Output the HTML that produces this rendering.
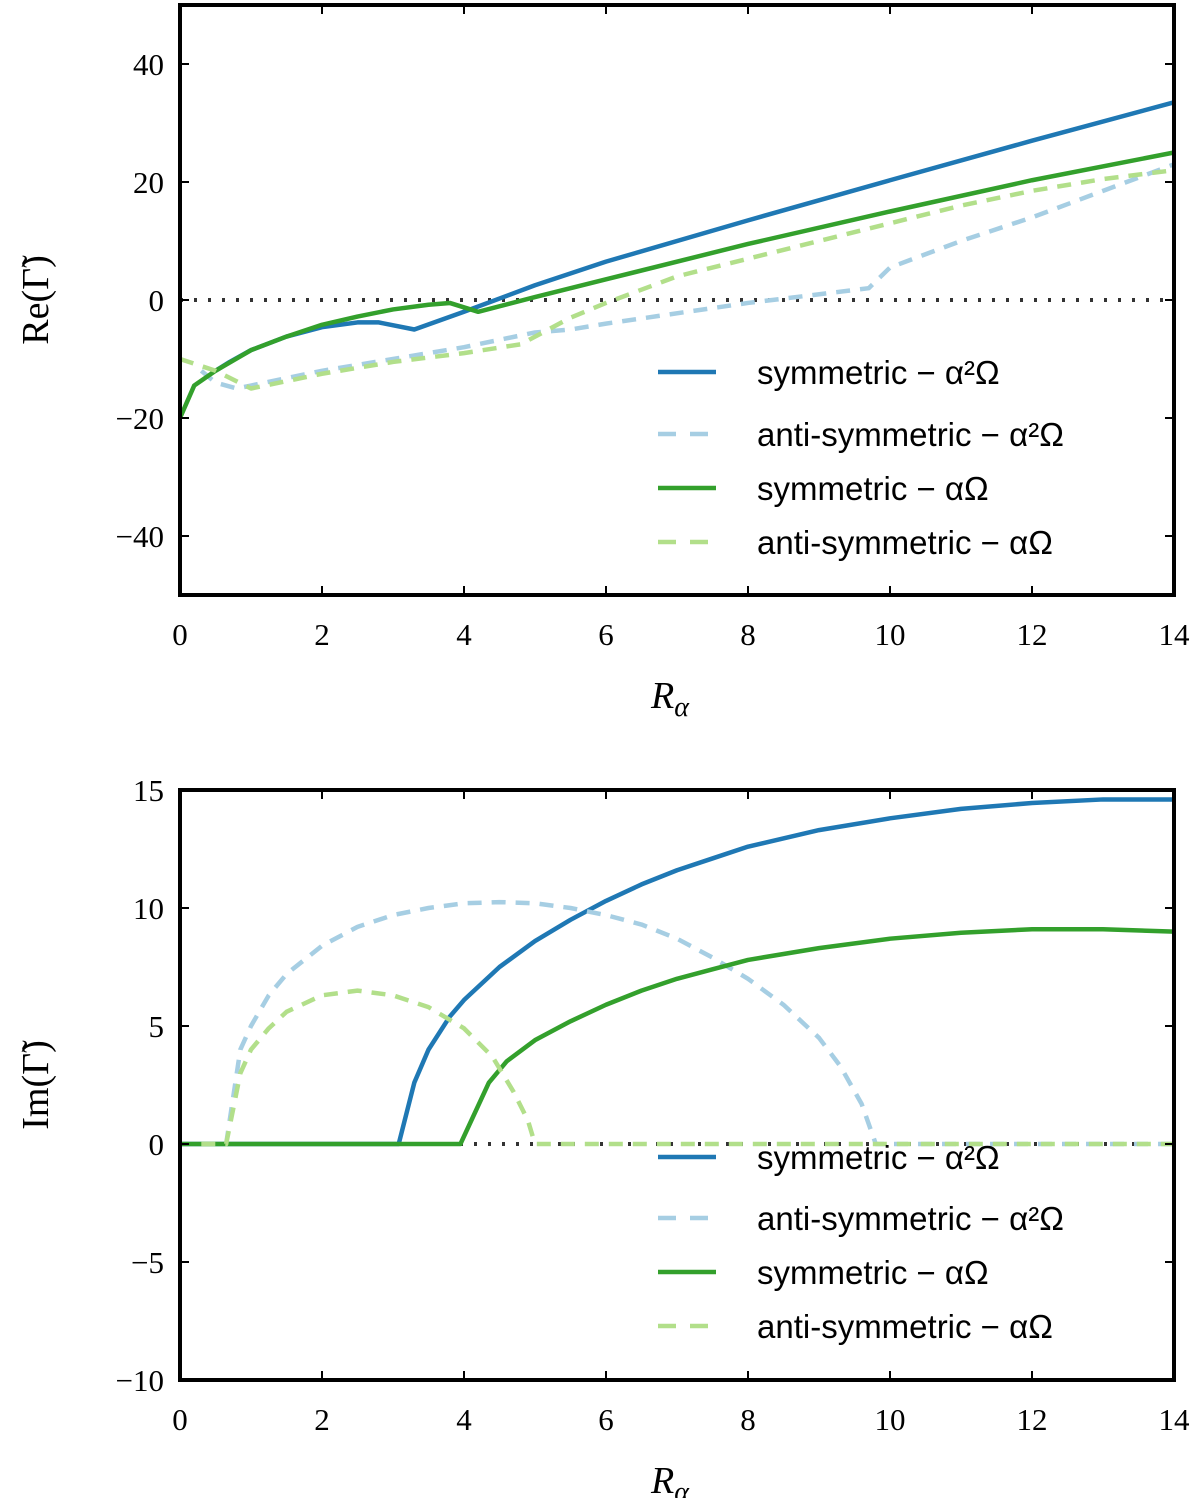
<!DOCTYPE html>
<html><head><meta charset="utf-8"><style>
body{margin:0;background:#fff}
svg{display:block}
.tick{font-family:"Liberation Serif",serif;font-size:31px;fill:#000}
.leg{font-family:"Liberation Sans",sans-serif;font-size:33px;fill:#000}
.lab{font-family:"Liberation Serif",serif;font-size:38px;fill:#000}
</style></head><body>
<svg id="chart" width="1200" height="1498" xmlns="http://www.w3.org/2000/svg"></svg>
<script>
const xTicks=[0,2,4,6,8,10,12,14];
const topYTicks=[-40,-20,0,20,40];
const botYTicks=[-10,-5,0,5,10,15];
const seriesNames=["symmetric \u2212 \u03b1\u00b2\u03a9","anti-symmetric \u2212 \u03b1\u00b2\u03a9","symmetric \u2212 \u03b1\u03a9","anti-symmetric \u2212 \u03b1\u03a9"];
const topSymA2=[[0.5,-12],[0.7,-10.5],[1,-8.5],[1.5,-6.2],[2,-4.6],[2.5,-3.8],[2.8,-3.8],[3.3,-5],[4,-2],[5,2.5],[6,6.5],[8,13.5],[10,20.3],[12,27],[14,33.5]];
const topAntiA2=[[0.3,-12],[0.5,-14],[0.8,-15],[1,-14.5],[2,-12],[3,-10],[4,-8],[5,-5.5],[5.5,-5],[6,-4],[8,-0.5],[9.7,2],[10,5.5],[11,10],[12,14],[13,18.5],[14,23]];
const topSymA=[[0,-20],[0.2,-14.5],[0.5,-12],[1,-8.5],[1.5,-6.2],[2,-4.2],[2.5,-2.8],[3,-1.6],[3.5,-0.8],[3.8,-0.5],[4.2,-2],[5,0.5],[6,3.5],[8,9.5],[10,15],[12,20.3],[14,25]];
const topAntiA=[[0,-10],[0.5,-12],[1,-15],[2,-12.5],[3,-10.5],[4,-9],[4.8,-7.5],[5.5,-3],[6,-0.5],[7,4],[8,7],[9,10],[10,13],[11,16],[12,18.5],[13,20.5],[14,22]];
const botSymA2=[[0,0],[3.08,0],[3.3,2.6],[3.5,4],[3.8,5.4],[4,6.1],[4.5,7.5],[5,8.6],[5.5,9.5],[6,10.3],[6.5,11],[7,11.6],[7.5,12.1],[8,12.6],[9,13.3],[10,13.8],[11,14.2],[12,14.45],[13,14.6],[14,14.6]];
const botAntiA2=[[0.3,0],[0.65,0],[0.85,4],[1,5],[1.25,6.3],[1.5,7.2],[2,8.4],[2.5,9.2],[3,9.7],[3.5,10],[4,10.2],[4.5,10.25],[5,10.2],[5.5,10],[6,9.7],[6.5,9.3],[7,8.7],[7.5,7.9],[8,7],[8.5,5.9],[9,4.5],[9.3,3.3],[9.6,1.7],[9.8,0],[14,0]];
const botSymA=[[0,0],[3.95,0],[4.35,2.6],[4.6,3.5],[5,4.4],[5.5,5.2],[6,5.9],[6.5,6.5],[7,7],[7.5,7.4],[8,7.8],[9,8.3],[10,8.7],[11,8.95],[12,9.1],[13,9.1],[14,9]];
const botAntiA=[[0.3,0],[0.65,0],[0.85,3],[1,4],[1.25,4.9],[1.5,5.6],[2,6.3],[2.5,6.5],[3,6.3],[3.5,5.8],[4,4.9],[4.4,3.7],[4.7,2.2],[4.9,1],[5,0],[14,0]];
const colors=["#1f78b4","#a6cee3","#33a02c","#b2df8a"];
const dashes=[null,"14,10",null,"14,10"];
const svg=document.getElementById('chart');
const NS="http://www.w3.org/2000/svg";
function mk(tag,attrs,parent){const e=document.createElementNS(NS,tag);for(const k in attrs)e.setAttribute(k,attrs[k]);(parent||svg).appendChild(e);return e;}
function panel(name,top,bot,ymin,ymax,yTicks,series,ylab,legY){
  const L=180,R=1174;
  const g=mk('g',{});
  
  
  const sx=v=>L+(v-0)/14*(R-L);
  const sy=v=>bot-(v-ymin)/(ymax-ymin)*(bot-top);
  const z=mk('line',{x1:L,x2:R,y1:sy(0),y2:sy(0),stroke:'#333','stroke-width':4,'stroke-dasharray':'3,11'},g);
  
  
  series.forEach((s,i)=>{
    const p=mk('polyline',{points:s.map(d=>sx(d[0])+','+sy(d[1])).join(' '),fill:'none',stroke:colors[i],'stroke-width':4.5,'stroke-linejoin':'round'},g);
    if(dashes[i])p.setAttribute('stroke-dasharray',dashes[i]);
    
    
  });
  const fr=mk('rect',{x:L,y:top,width:R-L,height:bot-top,fill:'none',stroke:'#000','stroke-width':4},g);
  
  
  xTicks.forEach(t=>{
    const x=sx(t);
    mk('line',{x1:x,x2:x,y1:bot,y2:bot-9,stroke:'#000','stroke-width':2},g);
    mk('line',{x1:x,x2:x,y1:top,y2:top+9,stroke:'#000','stroke-width':2},g);
    const tx=mk('text',{x:x,y:bot+50,'text-anchor':'middle',class:'tick'},g);
    tx.textContent=t;
    
    
  });
  yTicks.forEach(t=>{
    const y=sy(t);
    mk('line',{x1:L,x2:L+9,y1:y,y2:y,stroke:'#000','stroke-width':2},g);
    mk('line',{x1:R,x2:R-9,y1:y,y2:y,stroke:'#000','stroke-width':2},g);
    const tx=mk('text',{x:L-16,y:y+11,'text-anchor':'end',class:'tick'},g);
    tx.textContent=t<0?'\u2212'+(-t):t;
    
    
  });
  const xl=mk('text',{x:670,y:bot+113,'text-anchor':'middle',class:'lab','font-style':'italic'},g);
  xl.innerHTML='R<tspan font-size="28" dy="8">\u03b1</tspan>';
  
  
  const my=(top+bot)/2;
  const yl=mk('text',{x:0,y:0,'text-anchor':'middle',class:'lab',transform:`translate(48,${my}) rotate(-90)`},g);
  yl.textContent=ylab;
  
  
  legY.forEach((y,i)=>{
    const ln=mk('line',{x1:658,x2:716,y1:y,y2:y,stroke:colors[i],'stroke-width':4.5},g);
    if(dashes[i])ln.setAttribute('stroke-dasharray','18,14');
    
    
    const tx=mk('text',{x:757,y:y+12,class:'leg'},g);
    tx.textContent=seriesNames[i];
    
    
  });
}
panel('top-panel',5,595,-50,50,topYTicks,[topSymA2,topAntiA2,topSymA,topAntiA],'Re(\u0393\u0303)',[372,434,488,542]);
panel('bottom-panel',790,1380,-10,15,botYTicks,[botSymA2,botAntiA2,botSymA,botAntiA],'Im(\u0393\u0303)',[1157,1218,1272,1326]);
</script>
</body></html>
